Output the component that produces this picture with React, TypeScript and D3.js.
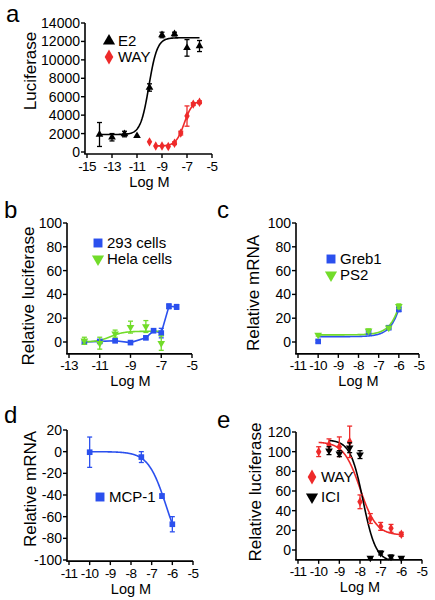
import React from 'react';
import * as d3 from 'd3';

const FONT = '"Liberation Sans", Arial, Helvetica, sans-serif';
const BLUE = '#2b50ee';
const GREEN = '#72dc2a';
const RED = '#ee2a2a';
const BLACK = '#000000';

// ---------- Panel a ----------
const aDoseE2 = [-14, -13, -12, -11, -10, -9, -8, -7, -6];
const aE2 = [1900, 1600, 1950, 1750, 7000, 12700, 12800, 11300, 11500];
const aE2Err = [1300, 400, 300, 0, 400, 300, 200, 900, 600];
const aDoseWAY = [-10, -9.5, -9, -8.5, -8, -7.5, -7, -6.5, -6];
const aWAY = [1100, 650, 650, 600, 950, 2050, 3900, 5200, 5400];
const aWAYErr = [0, 0, 0, 0, 150, 200, 1100, 150, 150];
// start, end, logEC50, hill, from, to
const aFitE2 = [1900, 12400, -10.05, 1.3, -14, -6];
const aFitWAY = [650, 5600, -7.22, 1.3, -9.6, -6];
const aXTicks = [-15, -13, -11, -9, -7, -5];
const aYTicks = [0, 2000, 4000, 6000, 8000, 10000, 12000, 14000];

// ---------- Panel b ----------
const bDose293 = [-12, -11, -10, -9, -8, -7.5, -7, -6.5, -6];
const b293 = [0, 0.5, 1, -0.5, 3.5, 9.5, 7.5, 30, 29.5];
const b293Err = [2, 1.5, 1, 1, 1, 1.5, 4, 2, 2];
const bDoseHela = [-12, -11, -10, -9, -8, -7];
const bHela = [1, -1, 7, 12.5, 13, -1];
const bHelaErr = [3, 5, 3, 5, 5, 6];
const bFitHela = [0, 9, -10.3, 1, -12, -7];
const bXTicks = [-13, -11, -9, -7, -5];
const bYTicks = [0, 20, 40, 60, 80, 100];

// ---------- Panel c ----------
const cDose = [-10, -7.5, -6.5, -6];
const cGreb1 = [0.5, 8.5, 12, 27.5];
const cGreb1Err = [1, 1, 1, 2];
const cPS2 = [6, 9.5, 12, 30];
const cPS2Err = [1, 1.5, 1, 2];
const cFitGreb1 = [4.5, 200, -5.21, 1.1, -10, -6];
const cFitPS2 = [6, 200, -5.227, 1.1, -10, -6];
const cXTicks = [-11, -10, -9, -8, -7, -6, -5];
const cYTicks = [0, 20, 40, 60, 80, 100];

// ---------- Panel d ----------
const dDose = [-10, -7.5, -6.5, -6];
const dMCP1 = [-0.5, -5, -41, -67];
const dMCP1Err = [14, 5, 2, 7];
const dFitMCP1 = [0, -100, -6.3, 1, -10, -6];
const dXTicks = [-11, -10, -9, -8, -7, -6, -5];
const dYTicks = [20, 0, -20, -40, -60, -80, -100];

// ---------- Panel e ----------
const eDoseWAY = [-10, -9.5, -9, -8.5, -8, -7.5, -7, -6.5, -6];
const eWAY = [100, 107, 105, 110, 49, 32, 24, 22, 16];
const eWAYErr = [5, 6, 10, 16, 7, 5, 4, 4, 2];
const eDoseICI = [-9.5, -9, -8.5, -8, -7.5, -7, -6.5, -6];
const eICI = [101, 98, 104, 97, -8, -3, -7, -8];
const eICIErr = [4, 3, 5, 4, 1, 2, 2, 1];
const eFitWAY = [110, 15, -8.0, 1.1, -10, -6];
const eFitICI = [112, -12, -7.85, 1.4, -9.5, -6.6];
const eXTicks = [-11, -10, -9, -8, -7, -6, -5];
const eYTicks = [0, 20, 40, 60, 80, 100, 120];

type Sym = 'triUp' | 'triDown' | 'square' | 'diamond';

interface Series {
  xs: number[];
  ys: number[];
  errs: number[];
  color: string;
  sym: Sym;
  fit?: number[];
  connect?: boolean;
}

interface LegendItem {
  label: string;
  color: string;
  sym: Sym;
  x: number;
  y: number;
}

interface PanelProps {
  letter: string;
  letterX: number;
  letterY: number;
  xDomain: [number, number];
  xRange: [number, number];
  yDomain: [number, number];
  yRange: [number, number];
  axisBottom: number;
  xTicks: number[];
  yTicks: number[];
  yTitle: string;
  yTitleX: number;
  yTitleY: number;
  series: Series[];
  legend: LegendItem[];
}

function fitFn(p: number[]) {
  const [start, end, ec50, hill] = p;
  return (x: number) => start + (end - start) / (1 + Math.pow(10, (ec50 - x) * hill));
}

function symPath(sym: Sym, size: number): string {
  const gen = d3.symbol();
  if (sym === 'square') return gen.type(d3.symbolSquare).size(size)() as string;
  if (sym === 'diamond') return gen.type(d3.symbolDiamond).size(size * 0.8)() as string;
  return gen.type(d3.symbolTriangle).size(size * 0.8)() as string;
}

function Marker({ sym, x, y, color, size }: { sym: Sym; x: number; y: number; color: string; size: number }) {
  const rot = sym === 'triDown' ? 180 : 0;
  return (
    <path
      d={symPath(sym, size)}
      fill={color}
      transform={`translate(${x},${y}) rotate(${rot})`}
    />
  );
}

function Panel(p: PanelProps) {
  const x = d3.scaleLinear().domain(p.xDomain).range(p.xRange);
  const y = d3.scaleLinear().domain(p.yDomain).range(p.yRange);
  const x0 = p.xRange[0] - 2;
  const yBot = y(p.axisBottom);
  const yTop = y(p.yTicks.reduce((a, b) => Math.max(a, b)));
  const xEnd = x(p.xTicks[p.xTicks.length - 1]);
  const line = d3.line<[number, number]>().x((d) => x(d[0])).y((d) => y(d[1]));
  const xc = (p.xRange[0] + p.xRange[1]) / 2;

  return (
    <g>
      <text x={p.letterX} y={p.letterY} fontSize={24} fontFamily={FONT}>{p.letter}</text>
      {/* axes */}
      <line x1={x0} x2={x0} y1={yTop} y2={yBot} stroke="#000" strokeWidth={1.6} />
      <line x1={x0 - 0.8} x2={xEnd} y1={yBot} y2={yBot} stroke="#000" strokeWidth={1.6} />
      {p.yTicks.map((t) => (
        <g key={'y' + t}>
          <line x1={x0 - 4} x2={x0} y1={y(t)} y2={y(t)} stroke="#000" strokeWidth={1.4} />
          <text x={x0 - 5} y={y(t)} dy="0.36em" textAnchor="end" fontSize={14} fontFamily={FONT}>{t}</text>
        </g>
      ))}
      {p.xTicks.map((t) => (
        <g key={'x' + t}>
          <line x1={x(t)} x2={x(t)} y1={yBot} y2={yBot + 4} stroke="#000" strokeWidth={1.4} />
          <text x={x(t)} y={yBot + 16.5} textAnchor="middle" fontSize={13.5} fontFamily={FONT} letterSpacing={-0.6}>{t}</text>
        </g>
      ))}
      <text x={xc} y={yBot + 32.5} textAnchor="middle" fontSize={14.5} fontFamily={FONT}>Log M</text>
      <text
        transform={`translate(${p.yTitleX},${p.yTitleY}) rotate(-90)`}
        dy="0.36em"
        textAnchor="middle"
        fontSize={17}
        fontFamily={FONT}
      >
        {p.yTitle}
      </text>
      {/* curves */}
      {p.series.map((s, i) => {
        let d = '';
        if (s.fit) {
          const f = fitFn(s.fit);
          const pts: [number, number][] = d3.range(0, 201).map((k) => {
            const xv = s.fit![4] + ((s.fit![5] - s.fit![4]) * k) / 200;
            return [xv, f(xv)];
          });
          d = line(pts) || '';
        } else if (s.connect) {
          d = line(s.xs.map((xv, k) => [xv, s.ys[k]] as [number, number])) || '';
        }
        return d ? <path key={'c' + i} d={d} fill="none" stroke={s.color} strokeWidth={1.6} /> : null;
      })}
      {/* error bars + markers */}
      {p.series.map((s, i) => (
        <g key={'s' + i}>
          {s.xs.map((xv, k) => {
            const e = s.errs[k];
            if (!e) return null;
            const px = x(xv);
            return (
              <g key={k} stroke={s.color} strokeWidth={1.3}>
                <line x1={px} x2={px} y1={y(s.ys[k] - e)} y2={y(s.ys[k] + e)} />
                <line x1={px - 2.5} x2={px + 2.5} y1={y(s.ys[k] + e)} y2={y(s.ys[k] + e)} />
                <line x1={px - 2.5} x2={px + 2.5} y1={y(s.ys[k] - e)} y2={y(s.ys[k] - e)} />
              </g>
            );
          })}
          {s.xs.map((xv, k) => (
            <Marker key={'m' + k} sym={s.sym} x={x(xv)} y={y(s.ys[k])} color={s.color} size={32} />
          ))}
        </g>
      ))}
      {/* legend */}
      {p.legend.map((l, i) => (
        <g key={'l' + i}>
          <Marker sym={l.sym} x={l.x} y={l.y} color={l.color} size={80} />
          <text x={l.x + 9} y={l.y} dy="0.36em" fontSize={15} fontFamily={FONT}>{l.label}</text>
        </g>
      ))}
    </g>
  );
}

export default function App() {
  return (
    <svg
      width={435}
      height={600}
      viewBox="0 0 435 600"
      style={{ position: 'absolute', left: 0, top: 0, background: '#fff' }}
    >
      <rect x={0} y={0} width={435} height={600} fill="#fff" />
      <Panel
        letter="a" letterX={6} letterY={22}
        xDomain={[-15, -5]} xRange={[87, 212]}
        yDomain={[0, 14000]} yRange={[152, 23]} axisBottom={-220}
        xTicks={aXTicks} yTicks={aYTicks}
        yTitle="Luciferase" yTitleX={30} yTitleY={71}
        series={[
          { xs: aDoseE2, ys: aE2, errs: aE2Err, color: BLACK, sym: 'triUp', fit: aFitE2 },
          { xs: aDoseWAY, ys: aWAY, errs: aWAYErr, color: RED, sym: 'diamond', fit: aFitWAY },
        ]}
        legend={[
          { label: 'E2', color: BLACK, sym: 'triUp', x: 109, y: 41 },
          { label: 'WAY', color: RED, sym: 'diamond', x: 109, y: 57 },
        ]}
      />
      <Panel
        letter="b" letterX={4} letterY={218}
        xDomain={[-13, -5]} xRange={[69, 192]}
        yDomain={[0, 100]} yRange={[342, 223]} axisBottom={-10}
        xTicks={bXTicks} yTicks={bYTicks}
        yTitle="Relative luciferase" yTitleX={28} yTitleY={296}
        series={[
          { xs: bDose293, ys: b293, errs: b293Err, color: BLUE, sym: 'square', connect: true },
          { xs: bDoseHela, ys: bHela, errs: bHelaErr, color: GREEN, sym: 'triDown', fit: bFitHela },
        ]}
        legend={[
          { label: '293 cells', color: BLUE, sym: 'square', x: 98, y: 243 },
          { label: 'Hela cells', color: GREEN, sym: 'triDown', x: 98, y: 259 },
        ]}
      />
      <Panel
        letter="c" letterX={217} letterY={218}
        xDomain={[-11, -5]} xRange={[298, 419]}
        yDomain={[0, 100]} yRange={[342, 223]} axisBottom={-10}
        xTicks={cXTicks} yTicks={cYTicks}
        yTitle="Relative mRNA" yTitleX={253} yTitleY={293}
        series={[
          { xs: cDose, ys: cGreb1, errs: cGreb1Err, color: BLUE, sym: 'square', fit: cFitGreb1 },
          { xs: cDose, ys: cPS2, errs: cPS2Err, color: GREEN, sym: 'triDown', fit: cFitPS2 },
        ]}
        legend={[
          { label: 'Greb1', color: BLUE, sym: 'square', x: 331, y: 259 },
          { label: 'PS2', color: GREEN, sym: 'triDown', x: 331, y: 275 },
        ]}
      />
      <Panel
        letter="d" letterX={4} letterY={423}
        xDomain={[-11, -5]} xRange={[69, 193]}
        yDomain={[-100, 20]} yRange={[560, 430]} axisBottom={-101}
        xTicks={dXTicks} yTicks={dYTicks}
        yTitle="Relative mRNA" yTitleX={30} yTitleY={489}
        series={[
          { xs: dDose, ys: dMCP1, errs: dMCP1Err, color: BLUE, sym: 'square', fit: dFitMCP1 },
        ]}
        legend={[
          { label: 'MCP-1', color: BLUE, sym: 'square', x: 100, y: 497 },
        ]}
      />
      <Panel
        letter="e" letterX={217} letterY={428}
        xDomain={[-11, -5]} xRange={[298, 422]}
        yDomain={[0, 120]} yRange={[550, 432]} axisBottom={-10}
        xTicks={eXTicks} yTicks={eYTicks}
        yTitle="Relative luciferase" yTitleX={255} yTitleY={492}
        series={[
          { xs: eDoseWAY, ys: eWAY, errs: eWAYErr, color: RED, sym: 'diamond', fit: eFitWAY },
          { xs: eDoseICI, ys: eICI, errs: eICIErr, color: BLACK, sym: 'triDown', fit: eFitICI },
        ]}
        legend={[
          { label: 'WAY', color: RED, sym: 'diamond', x: 312, y: 477 },
          { label: 'ICI', color: BLACK, sym: 'triDown', x: 312, y: 497 },
        ]}
      />
    </svg>
  );
}
